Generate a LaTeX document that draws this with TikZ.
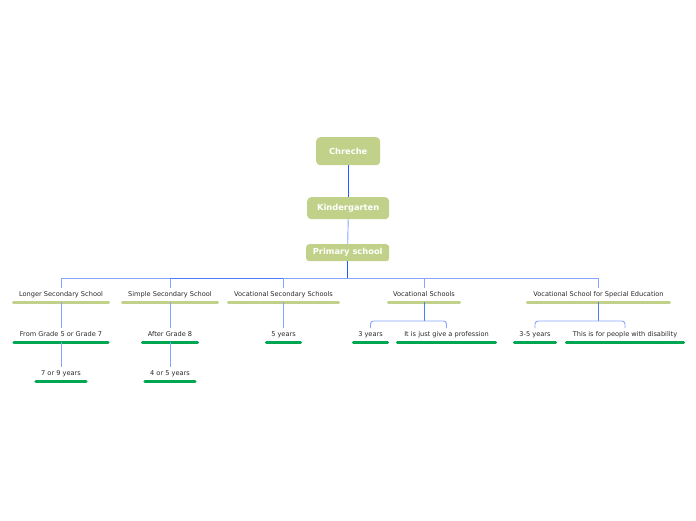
\documentclass[tikz,border=0pt]{standalone}
\usepackage{fontspec}
\setmainfont{DejaVu Sans}
\definecolor{olive}{RGB}{194,209,138}
\definecolor{grn}{RGB}{0,166,81}
\definecolor{bdark}{RGB}{30,90,255}
\definecolor{blight}{RGB}{135,165,255}
\definecolor{txt}{RGB}{40,40,40}
\begin{document}
\begin{tikzpicture}[x=1pt,y=-1pt,
  mainbox/.style={fill=olive,rounded corners=4pt,text=white,font=\fontsize{8.3}{9}\selectfont\bfseries,inner sep=0pt,anchor=north west},
  topic/.style={font=\fontsize{6.6}{7}\selectfont,text=txt,inner xsep=0pt,inner ysep=3.5pt,text height=5pt,text depth=1.5pt,anchor=south},
  ulo/.style={draw=olive,line width=3pt,line cap=round},
  ulg/.style={draw=grn,line width=3pt,line cap=round},
  dk/.style={draw=bdark,line width=1.3pt},
  md/.style={draw=bdark!80,line width=1pt},
  lt/.style={draw=blight,line width=0.9pt},
]
\useasboundingbox (0,0) rectangle (696,520);
% main boxes
\node[mainbox,minimum width=64pt,minimum height=28pt] (chr) at (316,137) {Chreche};
\node[mainbox,minimum width=82pt,minimum height=22pt] (kin) at (307,197) {Kindergarten};
\node[mainbox,minimum width=83pt,minimum height=17pt,rounded corners=3pt] (pri) at (306,244) {Primary school};
\draw[dk] (chr.south) -- (kin.north);
\draw[lt] (kin.south) -- (pri.north);
\draw[dk] (pri.south) -- ++(0,17) coordinate (hub);
% level 1
\node[topic,minimum width=95pt] (lss) at (61,302) {Longer Secondary School};
\node[topic,minimum width=95pt] (sss) at (170,302) {Simple Secondary School};
\node[topic,minimum width=110pt] (vss) at (283.5,302) {Vocational Secondary Schools};
\node[topic,minimum width=71pt] (vs) at (424,302) {Vocational Schools};
\node[topic,minimum width=142pt] (vse) at (598.5,302) {Vocational School for Special Education};
\foreach \n in {lss,sss,vss,vs,vse} \draw[ulo] (\n.south west) -- (\n.south east);
\draw[lt] (hub) -| (lss.north);
\draw[lt] (hub -| sss.north) -- (sss.north);
\draw[md] (hub) -- (hub -| sss.north);
\draw[lt] (hub) -| (vss.north);
\draw[lt] (hub) -| (vs.north);
\draw[lt] (hub) -| (vse.north);
% level 2
\node[topic,minimum width=94pt] (fg) at (61,342) {From Grade 5 or Grade 7};
\node[topic,minimum width=55pt] (ag) at (170,342) {After Grade 8};
\node[topic,minimum width=34pt] (y5) at (283.5,342) {5 years};
\node[topic,minimum width=34pt] (y3) at (370.5,342) {3 years};
\node[topic,minimum width=98pt] (prof) at (446.5,342) {It is just give a profession};
\node[topic,minimum width=41pt] (y35) at (535,342) {3-5 years};
\node[topic,minimum width=117pt] (dis) at (625,342) {This is for people with disability};
\foreach \n in {fg,ag,y5,y3,prof,y35,dis} \draw[ulg] (\n.south west) -- (\n.south east);
\draw[lt] (lss.south) -- (fg.north);
\draw[lt] (sss.south) -- (ag.north);
\draw[lt] (vss.south) -- (y5.north);
\draw[md] (vs.south) -- ++(0,19) coordinate (vsh);
\draw[lt,rounded corners=3pt] (y3.north) |- (vsh) -| (prof.north);
\draw[md] (vse.south) -- ++(0,19) coordinate (vseh);
\draw[lt,rounded corners=3pt] (y35.north) |- (vseh) -| (dis.north);
% level 3
\node[topic,minimum width=50pt] (y79) at (61,381) {7 or 9 years};
\node[topic,minimum width=50pt] (y45) at (170,381) {4 or 5 years};
\foreach \n in {y79,y45} \draw[ulg] (\n.south west) -- (\n.south east);
\draw[lt] (fg.south) -- (y79.north);
\draw[lt] (ag.south) -- (y45.north);
\end{tikzpicture}
\end{document}
